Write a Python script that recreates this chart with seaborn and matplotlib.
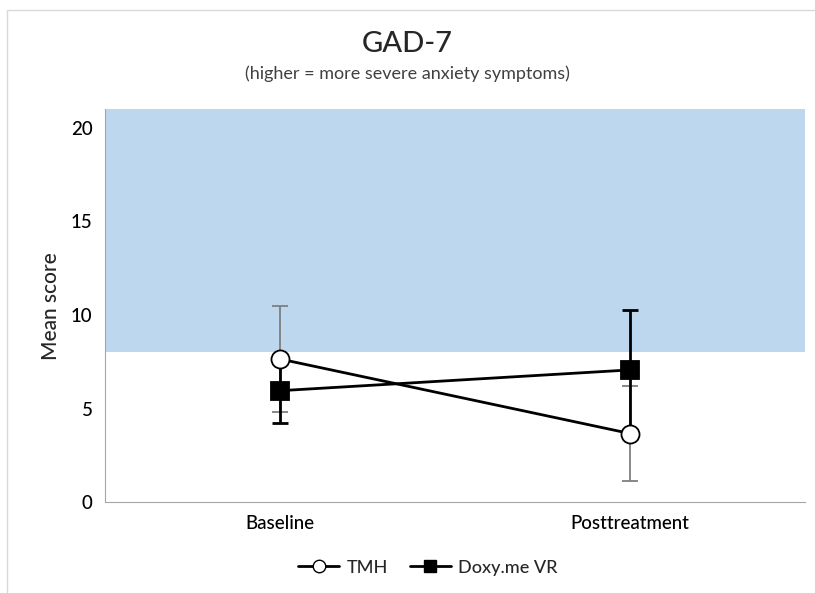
import pandas as pd
import matplotlib
matplotlib.use('Agg')
from matplotlib import pyplot as plt
from matplotlib.patches import Rectangle
import seaborn as sns

timepoints = ['Baseline', 'Posttreatment']
tmh_mean = [7.65, 3.67]
tmh_err = [2.83, 2.55]
doxy_mean = [5.96, 7.07]
doxy_err = [1.70, 3.20]
groups = ['TMH', 'Doxy.me VR']
band = (8, 21)

df = pd.DataFrame({
    'Time': timepoints * 2,
    'x': [0, 1] * 2,
    'Group': [groups[0]] * 2 + [groups[1]] * 2,
    'Mean': tmh_mean + doxy_mean,
    'Err': tmh_err + doxy_err,
})

sns.set_style('white')
plt.rcParams['font.family'] = ['Lato', 'DejaVu Sans']

fig = plt.figure(figsize=(8.15, 5.93), dpi=100)
ax = fig.add_axes([0.129, 0.153, 0.859, 0.663])

ax.axhspan(band[0], band[1], color='#bdd7ee', zorder=0, lw=0)

err_col = {'TMH': '#7f7f7f', 'Doxy.me VR': 'black'}
err_w = {'TMH': 1.3, 'Doxy.me VR': 2}
for g in groups:
    d = df[df.Group == g]
    ax.errorbar(d.x, d.Mean, yerr=d.Err, fmt='none', ecolor=err_col[g],
                elinewidth=err_w[g], capsize=6, capthick=err_w[g], zorder=2)

sns.lineplot(data=df, x='x', y='Mean', style='Group', hue='Group',
             palette={'TMH': 'black', 'Doxy.me VR': 'black'},
             markers={'TMH': 'o', 'Doxy.me VR': 's'}, dashes=False,
             linewidth=2, markersize=13, markeredgecolor='black',
             markeredgewidth=1.3, ax=ax, zorder=3, legend=False)
# white fill for TMH markers
for ln in ax.lines:
    if ln.get_marker() == 'o':
        ln.set_markerfacecolor('white')

ax.set_xlim(-0.5, 1.5)
ax.set_ylim(0, 21)
ax.set_xticks([0, 1])
ax.set_xticklabels(timepoints, fontsize=13.5, fontweight='medium')
ax.set_yticks([0, 5, 10, 15, 20])
ax.set_yticklabels(['0', '5', '10', '15', '20'], fontsize=13.5, fontweight='medium')
ax.set_xlabel('')
ax.set_ylabel('Mean score', fontsize=15, fontweight='medium', labelpad=7)
ax.tick_params(length=0, pad=9, colors='black')
for s in ['top', 'right']:
    ax.spines[s].set_visible(False)
ax.spines['left'].set_color('#a6a6a6')
ax.spines['bottom'].set_color('#a6a6a6')

handles = [
    plt.Line2D([], [], color='black', lw=2, marker='o', markerfacecolor='white',
               markeredgecolor='black', markersize=9),
    plt.Line2D([], [], color='black', lw=2, marker='s', markerfacecolor='black',
               markersize=8),
]
fig.legend(handles, groups, loc='center', bbox_to_anchor=(0.525, 0.043), ncol=2,
           frameon=False, prop={'size': 13, 'weight': 'medium'},
           handlelength=2.3, handletextpad=0.4, columnspacing=1.2)

fig.text(0.5, 0.925, 'GAD-7', ha='center', va='center', fontsize=21,
         fontweight='medium')
fig.text(0.5, 0.875, '(higher = more severe anxiety symptoms)', ha='center',
         va='center', fontsize=13, color='#404040')

fig.patches.append(Rectangle((0.009, -0.01), 1.0, 0.993, transform=fig.transFigure,
                             fill=False, edgecolor='#d9d9d9', lw=1))

fig.savefig('out.png', dpi=100)
